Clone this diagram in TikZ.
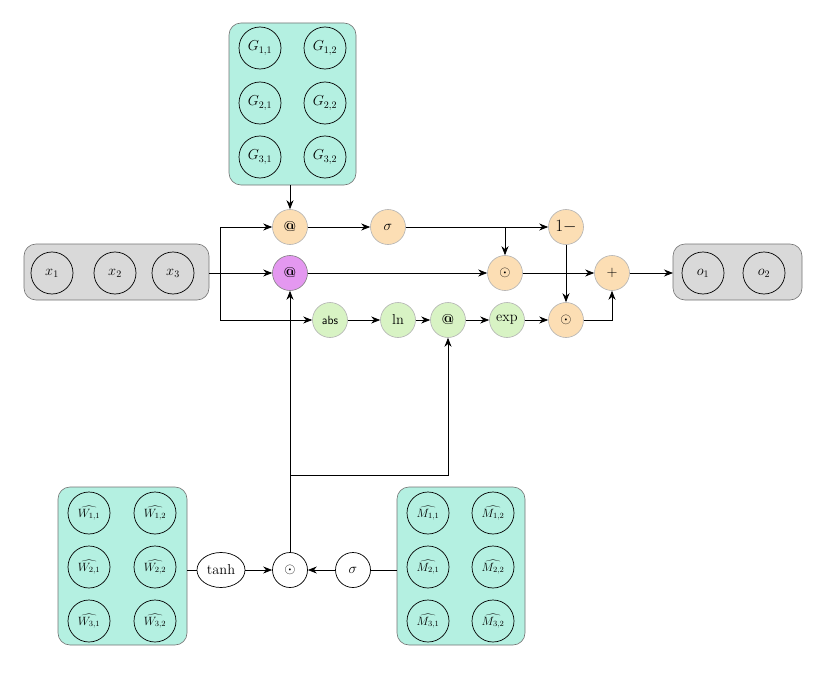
\documentclass[tikz,border=0pt]{standalone}
\usetikzlibrary{arrows.meta,shapes.geometric}
\definecolor{mint}{RGB}{180,240,225}
\definecolor{peach}{RGB}{252,222,180}
\definecolor{lgreen}{RGB}{216,243,196}
\definecolor{purp}{RGB}{228,152,240}
\begin{document}
\begin{tikzpicture}[x=1pt,y=-1pt,
  box/.style={draw=black!55,rounded corners=12pt,line width=0.6pt},
  tealbox/.style={box,fill=mint},
  graybox/.style={box,fill=black!15},
  var/.style={circle,draw,line width=0.7pt,minimum size=42pt,inner sep=0pt,font=\Large},
  op/.style={circle,draw=black!30,line width=0.6pt,minimum size=35pt,inner sep=0pt,fill=peach,font=\Large},
  gop/.style={op,fill=lgreen},
  wop/.style={circle,draw,line width=0.7pt,minimum size=35pt,inner sep=0pt,fill=white,font=\Large},
  arr/.style={-{Stealth[length=9pt,width=7pt]},line width=0.8pt},
  ln/.style={line width=0.8pt}]
\useasboundingbox (0,0) rectangle (831,677);
% boxes
\draw[tealbox] (229,23) rectangle (356,185);
\draw[graybox] (24,244) rectangle (209,300);
\draw[graybox] (673,244) rectangle (802,300);
\draw[tealbox] (58,487) rectangle (187,645);
\draw[tealbox] (397,487) rectangle (525,645);
\coordinate (Gb) at (290,185);
\coordinate (Xr) at (209,273);
\coordinate (Ol) at (673,273);
\coordinate (Wr) at (187,570);
\coordinate (Ml) at (397,570);
% G
\node[var] at (260,48) {$G_{1,1}$};
\node[var] at (325,48) {$G_{1,2}$};
\node[var] at (260,103) {$G_{2,1}$};
\node[var] at (325,103) {$G_{2,2}$};
\node[var] at (260,157) {$G_{3,1}$};
\node[var] at (325,157) {$G_{3,2}$};
% x, o
\node[var] at (52,273) {$x_1$};
\node[var] at (115,273) {$x_2$};
\node[var] at (173,273) {$x_3$};
\node[var] at (703,273) {$o_1$};
\node[var] at (764,273) {$o_2$};
% W, M
\foreach \r/\y in {1/513,2/567,3/621}{
  \node[var,font=\large] at (89,\y) {$\widehat{W_{\r,1}}$};
  \node[var,font=\large] at (155,\y) {$\widehat{W_{\r,2}}$};
  \node[var,font=\large] at (428,\y) {$\widehat{M_{\r,1}}$};
  \node[var,font=\large] at (493,\y) {$\widehat{M_{\r,2}}$};
}
% ops
\node[op] (a1) at (290,227) {\textbf{@}};
\node[op] (sg) at (388,227) {$\sigma$};
\node[op,font=\LARGE] (om) at (566,227) {$1-$};
\node[op,fill=purp,draw=black!50] (a2) at (290,273) {\textbf{@}};
\node[op] (d1) at (505,273) {$\odot$};
\node[op] (pl) at (612,273) {$+$};
\node[gop,font=\sffamily\large] (abs) at (330,320) {abs};
\node[gop] (lnn) at (398,320) {ln};
\node[gop] (a3) at (448,320) {\textbf{@}};
\node[gop] (ex) at (507,320) {exp};
\node[op] (d2) at (566,320) {$\odot$};
\node[wop,ellipse,minimum width=48pt,minimum height=35pt] (th) at (221,570) {tanh};
\node[wop] (d3) at (290,570) {$\odot$};
\node[wop] (s2) at (353,570) {$\sigma$};
% connectors
\draw[arr] (Gb) -- (a1);
\draw[arr] (Xr) -- (a2);
\draw[arr] (220,273) |- (a1);
\draw[arr] (220,273) |- (abs);
\draw[arr] (a1) -- (sg);
\draw[arr] (sg) -- (om);
\draw[arr] (505,227) -- (d1);
\draw[arr] (a2) -- (d1);
\draw[arr] (d1) -- (pl);
\draw[arr] (om) -- (d2);
\draw[arr] (abs) -- (lnn);
\draw[arr] (lnn) -- (a3);
\draw[arr] (a3) -- (ex);
\draw[arr] (ex) -- (d2);
\draw[arr] (d2) -| (pl);
\draw[arr] (pl) -- (Ol);
\draw[ln] (Wr) -- (th);
\draw[arr] (th) -- (d3);
\draw[ln] (Ml) -- (s2);
\draw[arr] (s2) -- (d3);
\draw[arr] (d3) -- (a2);
\draw[arr] (290,475) -| (a3);
\end{tikzpicture}
\end{document}
